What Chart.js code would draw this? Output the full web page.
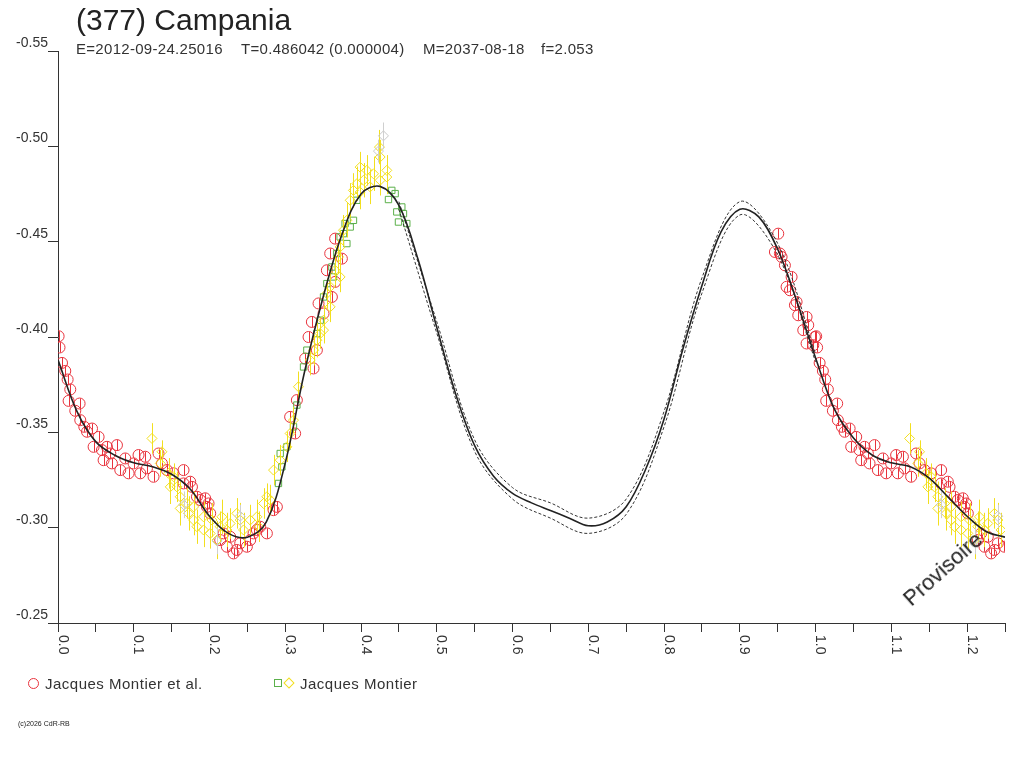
<!DOCTYPE html>
<html>
<head>
<meta charset="utf-8">
<script src="https://cdn.jsdelivr.net/npm/chart.js@4.4.1/dist/chart.umd.min.js"></script>
<style>
  body { margin: 0; background: #fff; }
  #wrap { position: relative; width: 1024px; height: 768px; font-family: "Liberation Sans", Arial, sans-serif; color: #222; }
  #c { position: absolute; left: 0; top: 0; }
  .t { position: absolute; white-space: pre; }
  .title { left: 76px; top: 5px; font-size: 30px; line-height: 30px; }
  .sub { top: 41px; font-size: 15px; line-height: 15px; letter-spacing: 0.3px; color: #333; }
  .leg { top: 676px; font-size: 15px; line-height: 15px; letter-spacing: 0.5px; color: #333; }
  .prov { left: 914px; top: 588px; font-size: 22px; line-height: 22px; transform: rotate(-42deg); transform-origin: 0 100%; }
  .copy { left: 18px; top: 720px; font-size: 7px; line-height: 8px; }
  .sym { position: absolute; box-sizing: border-box; }
</style>
</head>
<body>
<div id="wrap">
  <canvas id="c" width="1024" height="768"></canvas>
  <div class="t title">(377) Campania</div>
  <div class="t sub" style="left:76px">E=2012-09-24.25016</div>
  <div class="t sub" style="left:241px">T=0.486042 (0.000004)</div>
  <div class="t sub" style="left:423px">M=2037-08-18</div>
  <div class="t sub" style="left:541px">f=2.053</div>
  <div class="t prov">Provisoire</div>
  <span class="sym" style="left:28px;top:678px;width:11px;height:11px;border:1px solid #e8323c;border-radius:50%"></span>
  <div class="t leg" style="left:45px">Jacques Montier et al.</div>
  <span class="sym" style="left:274px;top:679px;width:8px;height:8px;border:1px solid #5bb04a"></span>
  <span class="sym" style="left:285px;top:679px;width:8px;height:8px;border:1px solid #f2df1e;transform:rotate(45deg)"></span>
  <div class="t leg" style="left:300px">Jacques Montier</div>
  <div class="t copy">(c)2026 CdR-RB</div>
</div>
<script>
// phase axis runs 0..1.25, points with phase <= 0.25 are shown again at phase + 1
const X_MAX = 1.25;

// Jacques Montier et al. (red circles)
const redPhase = [0.9463, 0.9507, 0.9529, 0.9551, 0.9595, 0.9617, 0.9661, 0.9683, 0.9727, 0.9749,
    0.9771, 0.9837, 0.9881, 0.9881, 0.9903, 0.9969, 0.9991, 0.0008, 0.0020, 0.0053,
    0.0096, 0.0127, 0.0140, 0.0162, 0.0228, 0.0285, 0.0294, 0.0347, 0.0383, 0.0449,
    0.0470, 0.0536, 0.0580, 0.0602, 0.0646, 0.0690, 0.0712, 0.0778, 0.0822, 0.0888,
    0.0932, 0.0997, 0.1063, 0.1086, 0.1152, 0.1174, 0.1261, 0.1327, 0.1372, 0.1438,
    0.1525, 0.1657, 0.1657, 0.1745, 0.1768, 0.1834, 0.1877, 0.1943, 0.1966, 0.1987,
    0.2009, 0.2141, 0.2185, 0.2229, 0.2273, 0.2317, 0.2361, 0.2405, 0.2493, 0.2537,
    0.2581, 0.2625, 0.2669, 0.2757, 0.2845, 0.2889, 0.3064, 0.3130, 0.3153, 0.3263,
    0.3307, 0.3351, 0.3373, 0.3417, 0.3439, 0.3505, 0.3549, 0.3593, 0.3615, 0.3658,
    0.3658, 0.3747];
const redMag = [-0.4446, -0.4542, -0.4438, -0.4420, -0.4376, -0.4263, -0.4245, -0.4315, -0.4167, -0.4184,
    -0.4114, -0.4036, -0.4105, -0.3966, -0.4062, -0.3957, -0.4000, -0.4004, -0.3945, -0.3864,
    -0.3822, -0.3777, -0.3665, -0.3725, -0.3613, -0.3651, -0.3564, -0.3529, -0.3503, -0.3520,
    -0.3424, -0.3476, -0.3407, -0.3354, -0.3424, -0.3389, -0.3337, -0.3433, -0.3302, -0.3363,
    -0.3285, -0.3337, -0.3381, -0.3285, -0.3372, -0.3311, -0.3267, -0.3389, -0.3337, -0.3302,
    -0.3285, -0.3302, -0.3232, -0.3241, -0.3214, -0.3162, -0.3145, -0.3154, -0.3109, -0.3127,
    -0.3075, -0.2935, -0.2970, -0.2900, -0.2952, -0.2865, -0.2883, -0.2918, -0.2900, -0.2935,
    -0.2970, -0.2988, -0.3005, -0.2970, -0.3092, -0.3109, -0.3581, -0.3494, -0.3669, -0.3887,
    -0.4000, -0.4079, -0.3835, -0.3931, -0.4176, -0.4123, -0.4350, -0.4438, -0.4210, -0.4289,
    -0.4516, -0.4411];

// Jacques Montier (yellow diamonds, with error bars)
const yellowPhase = [0.1240, 0.1350, 0.1372, 0.1459, 0.1482, 0.1525, 0.1570, 0.1613, 0.1613, 0.1702,
    0.1723, 0.1790, 0.1790, 0.1834, 0.1921, 0.1921, 0.2009, 0.2032, 0.2098, 0.2141,
    0.2163, 0.2229, 0.2273, 0.2361, 0.2405, 0.2449, 0.2537, 0.2625, 0.2647, 0.2713,
    0.2757, 0.2801, 0.2845, 0.2933, 0.3021, 0.3064, 0.3108, 0.3174, 0.3329, 0.3373,
    0.3417, 0.3461, 0.3505, 0.3505, 0.3549, 0.3593, 0.3593, 0.3658, 0.3702, 0.3724,
    0.3724, 0.3768, 0.3813, 0.3857, 0.3900, 0.3945, 0.3988, 0.3988, 0.4033, 0.4076,
    0.4121, 0.4165, 0.4252, 0.4243, 0.4252, 0.4340, 0.4340];
const yellowMag = [-0.3468, -0.3337, -0.3398, -0.3285, -0.3214, -0.3267, -0.3214, -0.3162, -0.3101, -0.3127,
    -0.3075, -0.3109, -0.3040, -0.3005, -0.3057, -0.2988, -0.2970, -0.3040, -0.2935, -0.3005,
    -0.3057, -0.2988, -0.3022, -0.3075, -0.3040, -0.2988, -0.3040, -0.3057, -0.3005, -0.3127,
    -0.3162, -0.3145, -0.3302, -0.3354, -0.3424, -0.3494, -0.3564, -0.3739, -0.3879, -0.3931,
    -0.3983, -0.4018, -0.4088, -0.4036, -0.4228, -0.4158, -0.4263, -0.4350, -0.4420, -0.4315,
    -0.4472, -0.4560, -0.4612, -0.4717, -0.4769, -0.4804, -0.4891, -0.4760, -0.4822, -0.4874,
    -0.4787, -0.4856, -0.4944, -0.4996, -0.4822, -0.4874, -0.4839];
const yellowErr = [0.008, 0.007, 0.006, 0.008, 0.009, 0.007, 0.008, 0.008, 0.009, 0.008,
    0.009, 0.008, 0.008, 0.009, 0.008, 0.009, 0.008, 0.009, 0.010, 0.008,
    0.009, 0.009, 0.008, 0.008, 0.009, 0.009, 0.008, 0.009, 0.008, 0.008,
    0.007, 0.008, 0.008, 0.008, 0.008, 0.008, 0.007, 0.008, 0.008, 0.008,
    0.009, 0.008, 0.008, 0.007, 0.008, 0.008, 0.009, 0.008, 0.009, 0.008,
    0.009, 0.008, 0.009, 0.009, 0.009, 0.009, 0.008, 0.009, 0.009, 0.008,
    0.009, 0.009, 0.009, 0.009, 0.008, 0.008, 0.009];

// Jacques Montier (green squares)
const greenPhase = [0.2910, 0.2933, 0.2955, 0.3021, 0.3108, 0.3153, 0.3241, 0.3285, 0.3417, 0.3461,
    0.3505, 0.3549, 0.3615, 0.3636, 0.3680, 0.3724, 0.3768, 0.3790, 0.3813, 0.3857,
    0.3900, 0.3945, 0.4362, 0.4406, 0.4450, 0.4472, 0.4494, 0.4538, 0.4560, 0.4604];
const greenMag = [-0.3232, -0.3389, -0.3319, -0.3424, -0.3529, -0.3643, -0.3843, -0.3931, -0.4018, -0.4088,
    -0.4210, -0.4280, -0.4367, -0.4315, -0.4438, -0.4525, -0.4542, -0.4595, -0.4490, -0.4577,
    -0.4612, -0.4717, -0.4721, -0.4769, -0.4752, -0.4656, -0.4603, -0.4682, -0.4647, -0.4595];

// pale grey diamonds
const greyPhase = [0.4296, 0.4230, 0.1660, 0.2405, 0.2100];
const greyMag = [-0.5055, -0.4975, -0.3120, -0.3060, -0.2930];
const greyErr = [0.007, 0.006, 0.007, 0.006, 0.007];

// fitted lightcurve
const modelPhase = [0.000, 0.025, 0.050, 0.075, 0.100, 0.125, 0.150, 0.175, 0.200, 0.225,
    0.250, 0.275, 0.300, 0.325, 0.350, 0.375, 0.400, 0.425, 0.450, 0.475,
    0.500, 0.525, 0.550, 0.575, 0.600, 0.625, 0.650, 0.675, 0.700, 0.725,
    0.750, 0.775, 0.800, 0.825, 0.850, 0.875, 0.900, 0.925, 0.950, 0.975,
    1.000, 1.025, 1.050, 1.075, 1.100, 1.125, 1.150, 1.175, 1.200, 1.225, 1.250];
const modelMag = [-0.388, -0.361, -0.345, -0.338, -0.334, -0.332, -0.328, -0.320, -0.306, -0.297,
    -0.295, -0.303, -0.334, -0.381, -0.421, -0.454, -0.475, -0.479, -0.469, -0.441,
    -0.405, -0.370, -0.343, -0.327, -0.318, -0.313, -0.309, -0.305, -0.301, -0.303,
    -0.311, -0.330, -0.357, -0.394, -0.427, -0.455, -0.467, -0.463, -0.446, -0.419,
    -0.389, -0.362, -0.347, -0.338, -0.334, -0.332, -0.326, -0.316, -0.306, -0.298, -0.295];

// uncertainty band (dashed)
const bandPhase = [0.45, 0.50, 0.55, 0.60, 0.65, 0.70, 0.75, 0.80, 0.85, 0.90, 0.95, 1.00];
const bandUpper = [-0.471, -0.408, -0.346, -0.321, -0.313, -0.305, -0.315, -0.361, -0.431, -0.471, -0.449, -0.391];
const bandLower = [-0.467, -0.402, -0.340, -0.315, -0.305, -0.297, -0.307, -0.353, -0.423, -0.464, -0.443, -0.387];

function fold(phases, mags, errs) {
    const pts = [];
    phases.forEach((p, i) => {
        const e = errs ? errs[i] : 0;
        pts.push({ x: p, y: mags[i], e: e });
        if (p + 1 <= X_MAX) pts.push({ x: p + 1, y: mags[i], e: e });
    });
    return pts;
}

function curve(phases, mags) {
    return phases.map((p, i) => ({ x: p, y: mags[i] }));
}

// error bars / marker bars, drawn right after their own dataset
const errorBars = {
    id: 'errorBars',
    afterDatasetDraw(chart, args) {
        const ds = chart.data.datasets[args.index];
        if (!ds.barColor) return;
        const ys = chart.scales.y;
        const ctx = chart.ctx;
        ctx.save();
        ctx.strokeStyle = ds.barColor;
        ctx.lineWidth = 1;
        ctx.beginPath();
        args.meta.data.forEach((el, i) => {
            const d = ds.data[i];
            const x = Math.round(el.x) + 0.5;
            if (ds.innerBar) {
                ctx.moveTo(x, el.y - ds.innerBar);
                ctx.lineTo(x, el.y + ds.innerBar);
            } else {
                ctx.moveTo(x, ys.getPixelForValue(d.y - d.e));
                ctx.lineTo(x, ys.getPixelForValue(d.y + d.e));
            }
        });
        ctx.stroke();
        ctx.restore();
    }
};

// x tick labels, turned a quarter clockwise, to the right of each 0.1 tick
const phaseLabels = {
    id: 'phaseLabels',
    afterDraw(chart) {
        const xs = chart.scales.x;
        const ctx = chart.ctx;
        ctx.save();
        ctx.font = '14px "Liberation Sans", Arial, sans-serif';
        ctx.fillStyle = '#333';
        ctx.textAlign = 'left';
        ctx.textBaseline = 'alphabetic';
        xs.ticks.forEach(t => {
            if (Math.round(t.value * 100) % 10 !== 0) return;
            ctx.save();
            ctx.translate(xs.getPixelForValue(t.value) + 0.5, xs.top + 12);
            ctx.rotate(Math.PI / 2);
            ctx.fillText(t.value.toFixed(1), 0, 0);
            ctx.restore();
        });
        ctx.restore();
    }
};

Chart.defaults.font.family = '"Liberation Sans", Arial, sans-serif';

new Chart(document.getElementById('c'), {
    type: 'scatter',
    data: {
        datasets: [
            {
                label: 'model',
                data: curve(modelPhase, modelMag),
                showLine: true,
                pointRadius: 0,
                borderColor: '#222',
                borderWidth: 1.6,
                tension: 0.35,
                order: 0
            },
            {
                label: 'band+',
                data: curve(bandPhase, bandUpper),
                showLine: true,
                pointRadius: 0,
                borderColor: '#333',
                borderWidth: 1,
                borderDash: [3, 2],
                tension: 0.35,
                order: 1
            },
            {
                label: 'band-',
                data: curve(bandPhase, bandLower),
                showLine: true,
                pointRadius: 0,
                borderColor: '#333',
                borderWidth: 1,
                borderDash: [3, 2],
                tension: 0.35,
                order: 1
            },
            {
                label: 'grey',
                data: fold(greyPhase, greyMag, greyErr),
                pointStyle: 'rectRot',
                pointRadius: 5,
                borderColor: '#c8c8c8',
                backgroundColor: 'rgba(0,0,0,0)',
                borderWidth: 1,
                barColor: '#cfcfcf',
                order: 2
            },
            {
                label: 'Jacques Montier',
                data: fold(yellowPhase, yellowMag, yellowErr),
                pointStyle: 'rectRot',
                pointRadius: 5,
                borderColor: '#f2df1e',
                backgroundColor: 'rgba(0,0,0,0)',
                borderWidth: 1,
                barColor: '#f2df1e',
                order: 3
            },
            {
                label: 'Jacques Montier (green)',
                data: fold(greenPhase, greenMag),
                pointStyle: 'rect',
                pointRadius: 4.5,
                borderColor: '#5bb04a',
                backgroundColor: 'rgba(0,0,0,0)',
                borderWidth: 1,
                order: 4
            },
            {
                label: 'Jacques Montier et al.',
                data: fold(redPhase, redMag),
                pointStyle: 'circle',
                pointRadius: 5.5,
                borderColor: '#e8323c',
                backgroundColor: 'rgba(0,0,0,0)',
                borderWidth: 1,
                barColor: '#e8323c',
                innerBar: 5,
                order: 5
            }
        ]
    },
    options: {
        responsive: false,
        devicePixelRatio: 1,
        animation: false,
        layout: { padding: { left: 0, top: 51, right: 19, bottom: 0 } },
        plugins: { legend: { display: false }, tooltip: { enabled: false } },
        scales: {
            x: {
                type: 'linear',
                min: 0,
                max: X_MAX,
                ticks: { stepSize: 0.05, display: false, autoSkip: false },
                grid: { drawOnChartArea: false, drawTicks: true, tickLength: 9, color: '#333' },
                border: { color: '#333', width: 1 },
                afterFit: s => { s.height = 145; }
            },
            y: {
                type: 'linear',
                reverse: true,
                min: -0.55,
                max: -0.25,
                ticks: {
                    stepSize: 0.05,
                    padding: 0,
                    labelOffset: -8,
                    color: '#333',
                    font: { size: 14 },
                    callback: v => v.toFixed(2)
                },
                grid: { drawOnChartArea: false, drawTicks: true, tickLength: 10, color: '#333' },
                border: { color: '#333', width: 1 },
                afterFit: s => { s.width = 58; }
            }
        }
    },
    plugins: [errorBars, phaseLabels]
});
</script>
</body>
</html>
